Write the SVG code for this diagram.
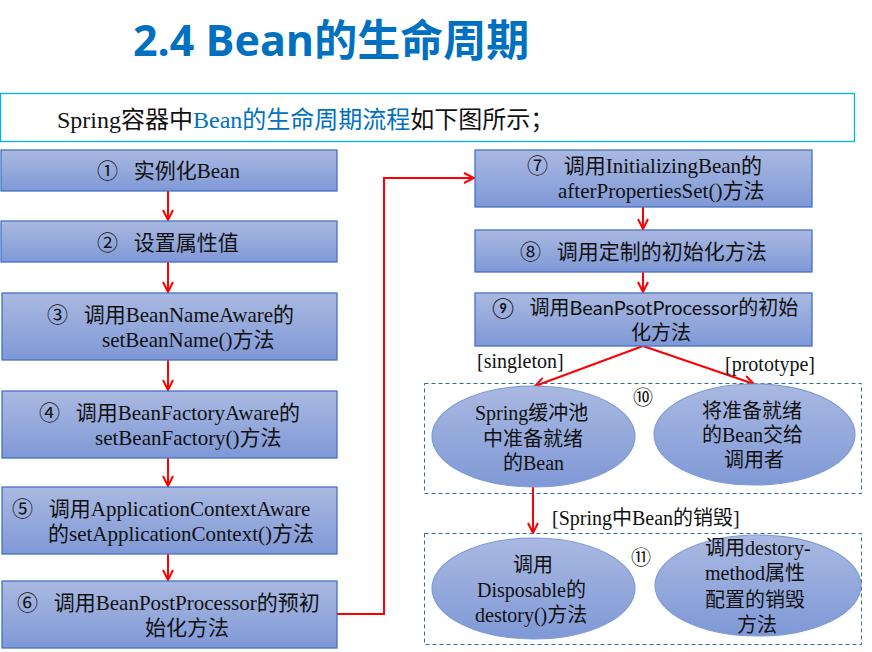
<svg xmlns="http://www.w3.org/2000/svg" width="872" height="652" viewBox="0 0 872 652">
<style>
.box{fill:url(#g);stroke:#4472C4;stroke-width:1.3}
.ell{fill:url(#g);stroke:#7F9BD6;stroke-width:1.2}
.dash{fill:none;stroke:#2E6DA4;stroke-width:1;stroke-dasharray:4 3}
.t{font-family:"Liberation Serif","Noto Sans CJK SC",serif;font-size:21px;fill:#111}
.e{font-family:"Liberation Serif","Noto Sans CJK SC",serif;font-size:20px;fill:#111}
.s{font-family:"Lato","Liberation Sans","Noto Sans CJK SC",sans-serif;font-size:20px;fill:#111}
.c{stroke:#FF0000;stroke-width:2;fill:none}
</style>
<defs>
<linearGradient id="g" x1="0" y1="0" x2="0" y2="1">
<stop offset="0" stop-color="#AAB9E1"/>
<stop offset="1" stop-color="#7F98D6"/>
</linearGradient>
<marker id="ar" viewBox="0 0 12 12" refX="11" refY="6" markerWidth="12" markerHeight="12" markerUnits="userSpaceOnUse" orient="auto">
<path d="M1,1 L11,6 L1,11" fill="none" stroke="#FF0000" stroke-width="2"/>
</marker>
</defs>
<rect width="872" height="652" fill="#fff"/>
<text x="133" y="56" font-family="'Open Sans','Noto Sans CJK SC',sans-serif" font-weight="bold" font-size="43" fill="#0070C0">2.4 Bean的生命周期</text>
<rect x="0.5" y="93.5" width="854" height="48" fill="#fff" stroke="#00B0F0" stroke-width="1.3"/>
<text x="57" y="128" font-family="'Liberation Serif','Noto Sans CJK SC',serif" font-size="24" fill="#111">Spring容器中<tspan fill="#0070C0">Bean的生命周期流程</tspan>如下图所示；</text>

<g id="connectors">
<line class="c" x1="168" y1="191" x2="168" y2="220" marker-end="url(#ar)"/>
<line class="c" x1="168" y1="262" x2="168" y2="292" marker-end="url(#ar)"/>
<line class="c" x1="168" y1="360" x2="168" y2="390" marker-end="url(#ar)"/>
<line class="c" x1="168" y1="458" x2="168" y2="486" marker-end="url(#ar)"/>
<line class="c" x1="168" y1="554" x2="168" y2="580" marker-end="url(#ar)"/>
<polyline class="c" points="337,614 384,614 384,178 474,178" marker-end="url(#ar)"/>
<line class="c" x1="643" y1="207" x2="643" y2="229" marker-end="url(#ar)"/>
<line class="c" x1="643" y1="272" x2="643" y2="292" marker-end="url(#ar)"/>
<line class="c" x1="643" y1="346" x2="535" y2="386" marker-end="url(#ar)"/>
<line class="c" x1="643" y1="346" x2="754" y2="384" marker-end="url(#ar)"/>
<line class="c" x1="533" y1="487" x2="533" y2="533" marker-end="url(#ar)"/>
</g>

<g id="n1"><rect class="box" x="1" y="150" width="336" height="41"/>
<text class="t" x="97" y="178" xml:space="preserve">①   实例化Bean</text></g>
<g id="n2"><rect class="box" x="1" y="221" width="336" height="41"/>
<text class="t" x="97" y="250" xml:space="preserve">②   设置属性值</text></g>
<g id="n3"><rect class="box" x="2" y="293" width="335" height="67"/>
<text class="t" x="47" y="322" xml:space="preserve">③   调用BeanNameAware的</text>
<text class="t" x="102" y="347">setBeanName()方法</text></g>
<g id="n4"><rect class="box" x="2" y="391" width="335" height="67"/>
<text class="t" x="39" y="420" xml:space="preserve">④   调用BeanFactoryAware的</text>
<text class="t" x="95" y="445">setBeanFactory()方法</text></g>
<g id="n5"><rect class="box" x="2" y="487" width="335" height="67"/>
<text class="t" x="12" y="516" xml:space="preserve">⑤   调用ApplicationContextAware</text>
<text class="t" x="48" y="541">的setApplicationContext()方法</text></g>
<g id="n6"><rect class="box" x="2" y="581" width="335" height="67"/>
<text class="t" x="17" y="610" xml:space="preserve">⑥   调用BeanPostProcessor的预初</text>
<text class="t" x="145" y="635">始化方法</text></g>

<g id="n7"><rect class="box" x="475" y="150" width="337" height="57"/>
<text class="t" x="527" y="173" xml:space="preserve">⑦   调用InitializingBean的</text>
<text class="t" x="558" y="198">afterPropertiesSet()方法</text></g>
<g id="n8"><rect class="box" x="475" y="230" width="337" height="42"/>
<text class="t" x="520" y="259" xml:space="preserve">⑧   调用定制的初始化方法</text></g>
<g id="n9"><rect class="box" x="475" y="293" width="337" height="53"/>
<text class="s" x="492" y="315" xml:space="preserve">⑨   调用BeanPsotProcessor的初始</text>
<text class="s" x="631" y="340">化方法</text></g>

<text class="e" x="477" y="368">[singleton]</text>
<text class="e" x="725" y="371">[prototype]</text>

<g id="n10">
<rect class="dash" x="424.5" y="383.5" width="437" height="110"/>
<text class="e" x="643" y="405" text-anchor="middle">⑩</text>
</g>
<g id="n10a"><ellipse class="ell" cx="533.5" cy="436.5" rx="101.5" ry="50.5"/>
<text class="e" x="475" y="420">Spring缓冲池</text>
<text class="e" x="483" y="446">中准备就绪</text>
<text class="e" x="503" y="470">的Bean</text></g>
<g id="n10b"><ellipse class="ell" cx="754.5" cy="434.5" rx="100.5" ry="50.5"/>
<text class="e" x="702" y="418">将准备就绪</text>
<text class="e" x="702" y="442">的Bean交给</text>
<text class="e" x="724" y="467">调用者</text></g>

<text class="e" x="552" y="525">[Spring中Bean的销毁]</text>

<g id="n11">
<rect class="dash" x="424.5" y="533.5" width="437" height="111"/>
<text class="e" x="641" y="565" text-anchor="middle">⑪</text>
</g>
<g id="n11a"><ellipse class="ell" cx="533.5" cy="588.5" rx="101.5" ry="50.5"/>
<text class="e" x="513" y="572">调用</text>
<text class="e" x="477" y="597">Disposable的</text>
<text class="e" x="475" y="622">destory()方法</text></g>
<g id="n11b"><ellipse class="ell" cx="758" cy="585.5" rx="103" ry="50.5"/>
<text class="e" x="705" y="555">调用destory-</text>
<text class="e" x="705" y="580">method属性</text>
<text class="e" x="705" y="607">配置的销毁</text>
<text class="e" x="737" y="632">方法</text></g>
</svg>
